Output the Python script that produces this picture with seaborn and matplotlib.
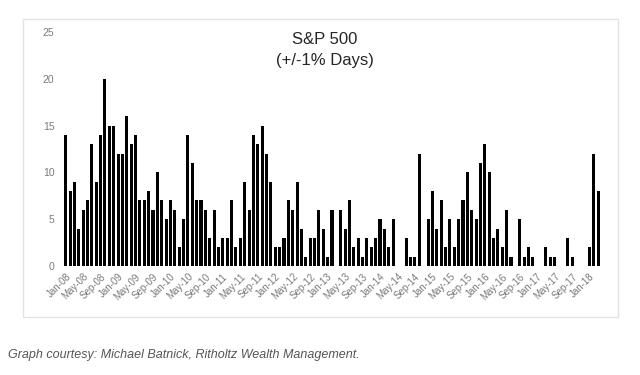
import numpy as np
import pandas as pd
import seaborn as sns
import matplotlib.pyplot as plt
from matplotlib.patches import Rectangle

# monthly count of +/-1% days, Jan-08 .. Mar-18
y2008 = [14, 8, 9, 4, 6, 7, 13, 9, 14, 20, 15, 15]
y2009 = [12, 12, 16, 13, 14, 7, 7, 8, 6, 10, 7, 5]
y2010 = [7, 6, 2, 5, 14, 11, 7, 7, 6, 3, 6, 2]
y2011 = [3, 3, 7, 2, 3, 9, 6, 14, 13, 15, 12, 9]
y2012 = [2, 2, 3, 7, 6, 9, 4, 1, 3, 3, 6, 4]
y2013 = [1, 6, 0, 6, 4, 7, 2, 3, 1, 3, 2, 3]
y2014 = [5, 4, 2, 5, 0, 0, 3, 1, 1, 12, 0, 5]
y2015 = [8, 4, 7, 2, 5, 2, 5, 7, 10, 6, 5, 11]
y2016 = [13, 10, 3, 4, 2, 6, 1, 0, 5, 1, 2, 1]
y2017 = [0, 0, 2, 1, 1, 0, 0, 3, 1, 0, 0, 0]
y2018 = [2, 12, 8]

days = y2008 + y2009 + y2010 + y2011 + y2012 + y2013 + y2014 + y2015 + y2016 + y2017 + y2018
months = pd.date_range('2008-01-01', periods=len(days), freq='MS').strftime('%b-%y')

df = pd.DataFrame({'month': months, 'days': days})

sns.set_style('white')
plt.rcParams['font.family'] = ['Liberation Sans', 'DejaVu Sans']

fig = plt.figure(figsize=(6.4, 3.75), dpi=100)
ax = fig.add_axes([61.3 / 640, 1 - 266 / 375, (602.7 - 61.3) / 640, (266 - 32) / 375])

sns.barplot(data=df, x='month', y='days', color='black', width=0.7,
            saturation=1, linewidth=0, antialiased=False, ax=ax)

ax.set_xlim(-1, len(days))
ax.set_ylim(0, 25)
ax.set_yticks([0, 5, 10, 15, 20, 25])
ax.set_xticks(range(0, len(days), 4))
ax.set_xticklabels(months[::4], rotation=45, ha='right', rotation_mode='anchor',
                   fontsize=7, color='#7a7a7a')
ax.tick_params(axis='y', labelsize=7.5, labelcolor='#7a7a7a', length=0, pad=5)
ax.tick_params(axis='x', length=0, pad=4)
ax.set_xlabel('')
ax.set_ylabel('')
sns.despine(ax=ax, left=True, bottom=True)

fig.text(325 / 640, 1 - 40 / 375, 'S&P 500', ha='center', va='center', fontsize=12)
fig.text(325 / 640, 1 - 60 / 375, '(+/-1% Days)', ha='center', va='center', fontsize=12)

fig.patches.append(Rectangle((23 / 640, 1 - 317 / 375), (618 - 23) / 640, (317 - 19) / 375,
                             transform=fig.transFigure, fill=False,
                             edgecolor='#e3e3e3', linewidth=1))

fig.text(8 / 640, 1 - 355 / 375, 'Graph courtesy: Michael Batnick, Ritholtz Wealth Management.',
         ha='left', va='center', fontsize=9, style='italic', color='#555555')

fig.savefig('out.png', dpi=100)
